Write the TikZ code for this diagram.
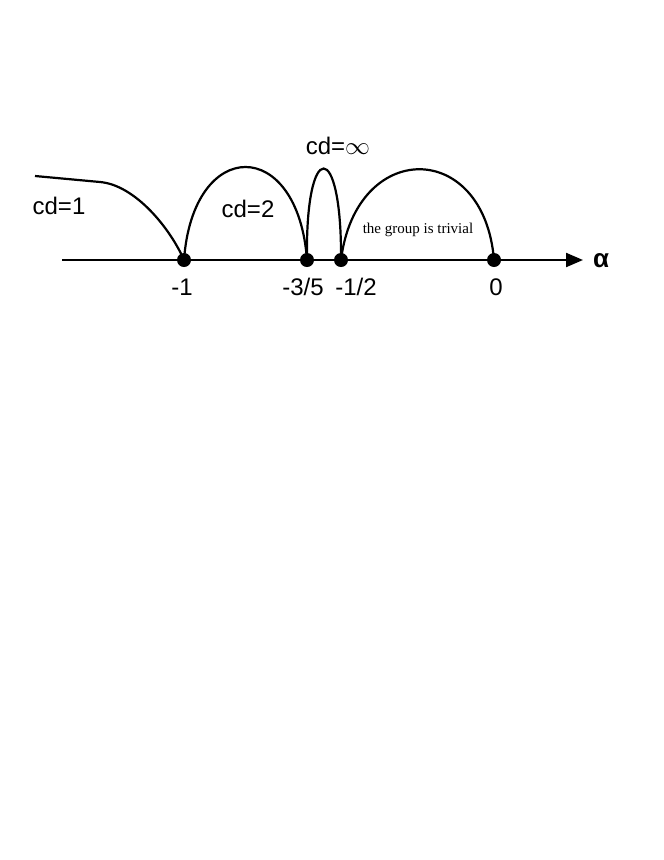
\documentclass[tikz,border=0pt]{standalone}
\usepackage{fontspec}
\setmainfont{Liberation Sans}
\newfontfamily\serifrm{Liberation Serif}
\usetikzlibrary{arrows.meta}
\begin{document}
\begin{tikzpicture}[x=1pt,y=-1pt,
  curve/.style={line width=2.2pt},
  dot/.style={circle,fill=black,inner sep=0pt,minimum size=14pt},
  lab/.style={font=\fontsize{24}{28}\selectfont,inner sep=0pt}]
\useasboundingbox (0,0) rectangle (664,860);
% axis
\coordinate (a0) at (62,260);
\coordinate (a1) at (583,260);
\draw[line width=2.2pt,-{Triangle[length=17pt,width=14pt]}] (a0) -- (a1);
% dots
\node[dot] (m1) at (184,260) {};
\node[dot] (m35) at (307,260) {};
\node[dot] (m12) at (341,260) {};
\node[dot] (z) at (494,260) {};
% curves
\coordinate (s) at (35,176);
\coordinate (k) at (100,182);
\draw[curve] (s) -- (k) .. controls (135,185) and (170,228) .. (m1.center);
\draw[curve] (m1.center) .. controls (193,136) and (298,136) .. (m35.center);
\draw[curve] (m35.center) .. controls (305,138) and (342,138) .. (m12.center);
\draw[curve] (m12.center) .. controls (356,139) and (484,139) .. (z.center);
% labels
\node[lab] (l1) at (59,206) {cd=1};
\node[lab] (l2) at (248,209) {cd=2};
\node[lab] (l3) at (338,146) {cd=$\infty$};
\node[font=\serifrm\fontsize{15}{17}\selectfont,inner sep=0pt] (tg) at (418,230) {the group is trivial};
\node[lab] (t1) at (182,287) {-1};
\node[lab] (t35) at (303,287) {-3/5};
\node[lab] (t12) at (356,287) {-1/2};
\node[lab] (t0) at (496,287) {0};
\node[lab,font=\bfseries\fontsize{26}{28}\selectfont] (al) at (601,261) {α};
\end{tikzpicture}
\end{document}
